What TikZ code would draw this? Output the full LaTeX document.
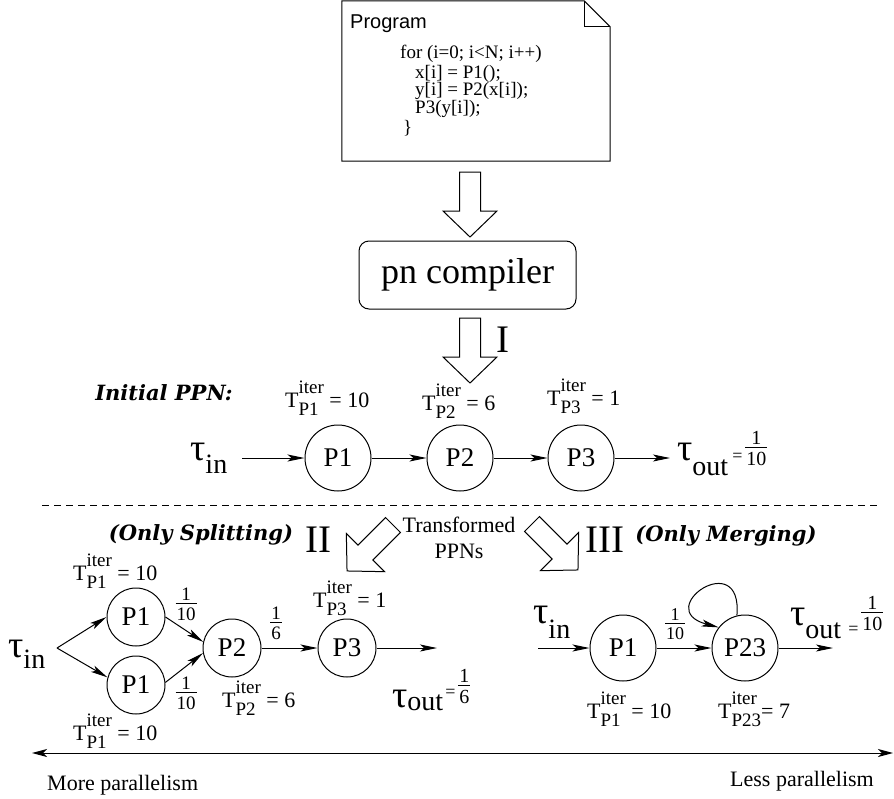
\documentclass[tikz,border=0pt]{standalone}
\usepackage{fontspec}
\setmainfont{Liberation Serif}
\newfontfamily\sansf{Liberation Sans}
\newfontfamily\schf{DejaVu Serif}
\usetikzlibrary{arrows.meta}

\newcommand\fs[1]{\fontsize{#1}{#1}\selectfont}
\newcommand\tauT[2]{{\fs{38}τ}\raisebox{-#2pt}{\fs{28}#1}}
\newcommand\fr[3]{\hbox{\fs{#1}\setbox0\hbox{#2}\setbox2\hbox{#3}\dimen0=\wd0 \ifdim\wd2>\dimen0 \dimen0=\wd2 \fi\advance\dimen0 by 2pt\vbox{\hbox to\dimen0{\hss\box0\hss}\kern2.5pt\hrule height0.8pt\kern4pt\hbox to\dimen0{\hss\box2\hss}}}}
\newcommand\Tl[2]{T\sbox0{\fs{19}iter}\sbox2{\fs{19}#1}\rlap{\raisebox{14pt}{\usebox0}}\raisebox{-8pt}{\usebox2}\ifdim\wd0>\wd2 \hspace{\dimexpr\wd0-\wd2\relax}\fi#2}

\tikzset{
  barrow/.pic={\draw[line width=1pt, fill=white] (-10.5,0) -- (-10.5,-39) -- (-27,-39) -- (0,-65) -- (27,-39) -- (10.5,-39) -- (10.5,0) -- cycle;},
  arr/.style={line width=1pt, -{Stealth[length=17pt, width=7pt, inset=4pt]}},
  procA/.style={circle, draw, line width=1pt, minimum size=66pt, inner sep=0pt, font=\fs{27}},
  procB/.style={circle, draw, line width=1pt, minimum size=58pt, inner sep=0pt, font=\fs{27}},
  tlab/.style={anchor=base west, inner sep=0pt, font=\fs{22}},
  taun/.style={anchor=base west, inner sep=0pt},
  frl/.style={inner sep=0pt},
  bilab/.style={font=\schf\bfseries\itshape\fs{21}},
  roman/.style={font=\fs{39}, inner sep=0pt},
  code/.style={anchor=base west, inner sep=0pt, font=\fs{19}},
}

\begin{document}
\begin{tikzpicture}[x=1pt, y=1pt]
\useasboundingbox (0,0) rectangle (894,-798);

% Program box
\node[minimum width=268pt, minimum height=160pt, inner sep=0pt] (prog) at (476,-81) {};
\draw[line width=1pt] (prog.north west) -- ([xshift=-26pt]prog.north east) -- ([yshift=-26pt]prog.north east) -- (prog.south east) -- (prog.south west) -- cycle;
\draw[line width=1pt] ([xshift=-26pt]prog.north east) -- ++(0,-26) -- ([yshift=-26pt]prog.north east);
\node[anchor=base west, inner sep=0pt, font=\sansf\fs{20}] (ptitle) at (350,-28) {Program};
\node[code] (c1) at (400,-58) {for (i=0; i<N; i++)};
\node[code] (c2) at (415,-78) {x[i] = P1();};
\node[code] (c3) at (415,-95) {y[i] = P2(x[i]);};
\node[code] (c4) at (415,-113) {P3(y[i]);};
\node[code] (c5) at (403,-133) {\}};

% compiler
\node[draw, line width=1pt, rounded corners=10pt, minimum width=217pt, minimum height=68pt, font=\fs{36}] (comp) at (467.5,-275) {pn compiler};

% block arrows
\pic at (470,-172) {barrow};
\pic at (470,-318) {barrow};
\pic[rotate=-45] at (393,-525) {barrow};
\pic[rotate=45] at (532,-524) {barrow};
\node[roman] (rI) at (503,-340) {I};
\node[roman] (rII) at (318.5,-540) {II};
\node[roman] (rIII) at (605,-540) {III};

% Initial PPN
\node[bilab] (ippn) at (164,-393) {Initial PPN:};
\node[procA] (P1) at (338,-458) {P1};
\node[procA] (P2) at (460,-458) {P2};
\node[procA] (P3) at (581,-458) {P3};
\node[tlab] (tp1) at (285,-407) {\Tl{P1}{\ = 10}};
\node[tlab] (tp2) at (422,-410) {\Tl{P2}{\ = 6}};
\node[tlab] (tp3) at (547,-405) {\Tl{P3}{\ = 1}};
\node[taun] (tin) at (190,-460) {\tauT{in}{13}};
\node[taun] (tout) at (677,-460) {\tauT{out}{15}\hspace{4pt}\raisebox{-1.5pt}{\fs{18}=}\hspace{3pt}\raisebox{-5pt}{\fr{20}{1}{10}}};
\draw[arr, shorten <=15pt] (tin.east |- P1) -- (P1);
\draw[arr] (P1) -- (P2);
\draw[arr] (P2) -- (P3);
\draw[arr, shorten >=7pt] (P3) -- (tout.west |- P3);

% dashed separator
\coordinate (dl) at (42,-505);
\coordinate (dr) at (880,-505);
\draw[line width=0.8pt, dash pattern=on 7pt off 5pt] (dl) -- (dr);

\node[align=center, font=\fontsize{22}{26}\selectfont] (trans) at (459,-538) {Transformed\\PPNs};
\node[bilab] (split) at (201,-535) {(Only Splitting)};
\node[bilab] (merge) at (726,-536) {(Only Merging)};

% splitting graph
\node[taun] (tin2) at (8,-657) {\tauT{in}{11}};
\coordinate (F) at (57,-648);
\node[procB] (Q1a) at (136,-617) {P1};
\node[procB] (Q1b) at (136,-685) {P1};
\node[procB] (Q2) at (232,-648) {P2};
\node[procB] (Q3) at (347,-648) {P3};
\coordinate (o1) at (437,-648);
\draw[arr] (F) -- (Q1a.west);
\draw[arr] (F) -- (Q1b.165);
\draw[arr] (Q1a.east) -- (Q2.168);
\draw[arr] (Q1b.5) -- (Q2.190);
\draw[arr] (Q2) -- (Q3);
\draw[arr] (Q3) -- (o1);
\node[frl] (fa) at (186,-604) {\fr{19}{1}{10}};
\node[frl] (fb) at (186,-693) {\fr{19}{1}{10}};
\node[frl] (fc) at (276,-623) {\fr{19}{1}{6}};
\node[tlab] (tq1a) at (73,-580) {\Tl{P1}{\ = 10}};
\node[tlab] (tq1b) at (73,-740) {\Tl{P1}{\ = 10}};
\node[tlab] (tq2) at (222,-707) {\Tl{P2}{\ = 6}};
\node[tlab] (tq3) at (313,-607) {\Tl{P3}{\ = 1}};
\node[taun] (tout2) at (392,-707) {\tauT{out}{3}\hspace{2pt}\raisebox{9.5pt}{\fs{18}=}\hspace{3pt}\raisebox{4pt}{\fr{20}{1}{6}}};

% merging graph
\node[taun] (tin3) at (533,-623) {\tauT{in}{15}};
\coordinate (rin) at (538,-648);
\node[procA] (R1) at (623,-648) {P1};
\node[procA] (R23) at (745,-648) {P23};
\coordinate (o2) at (833,-648);
\draw[arr] (rin) -- (R1);
\draw[arr] (R1) -- (R23);
\draw[arr] (R23) -- (o2);
\draw[arr] (R23.104) .. controls +(85:70) and +(165:70) .. (R23.142);
\node[frl] (fd) at (675,-624) {\fr{18}{1}{10}};
\node[tlab] (tr1) at (587,-718) {\Tl{P1}{\ = 10}};
\node[tlab] (tr23) at (718,-718) {\Tl{P23}{= 7}};
\node[taun] (tout3) at (790,-625) {\tauT{out}{13}\hspace{7pt}\raisebox{-9.5pt}{\fs{18}=}\hspace{3pt}\raisebox{-5pt}{\fr{20}{1}{10}}};

% parallelism axis
\coordinate (La) at (32,-753);
\coordinate (Lb) at (893,-753);
\draw[line width=1pt, {Stealth[length=15pt, width=8pt, inset=4pt]}-{Stealth[length=15pt, width=8pt, inset=4pt]}] (La) -- (Lb);
\node[anchor=base west, inner sep=0pt, font=\fs{22}] (more) at (47,-790) {More parallelism};
\node[anchor=base west, inner sep=0pt, font=\fs{22}] (less) at (730,-786) {Less parallelism};
\end{tikzpicture}
\end{document}
